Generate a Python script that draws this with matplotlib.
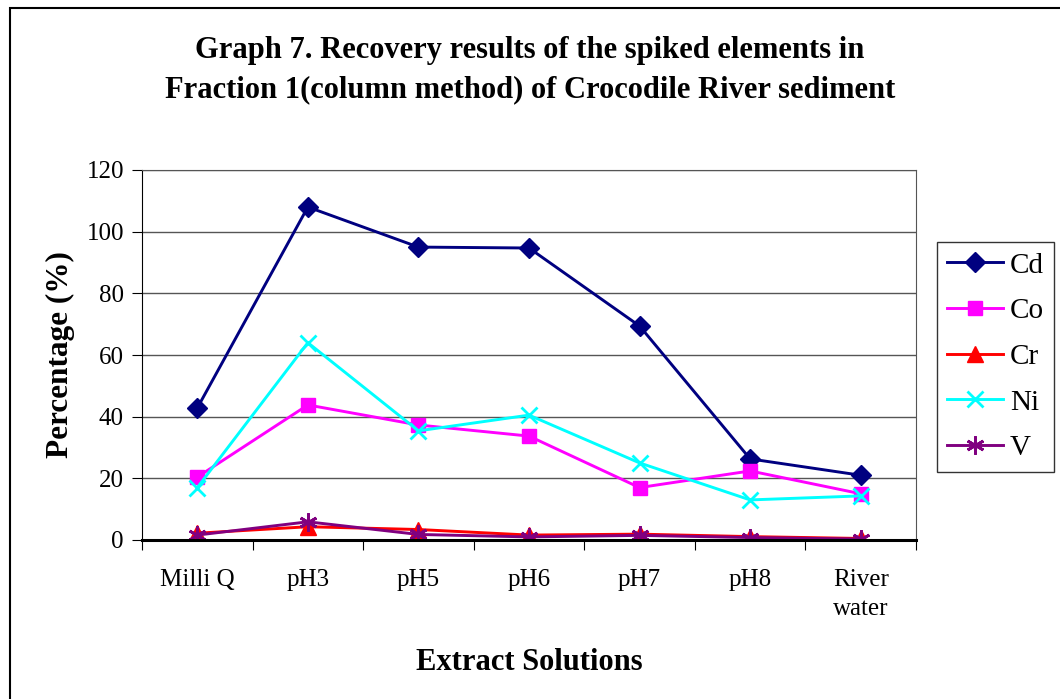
import numpy as np
from matplotlib import pyplot as plt
from matplotlib.patches import Rectangle

plt.rcParams['font.family'] = ['Liberation Serif', 'DejaVu Serif']

categories = ['Milli Q', 'pH3', 'pH5', 'pH6', 'pH7', 'pH8', 'River\nwater']
cd = [42.8, 108.0, 95.0, 94.7, 69.4, 26.3, 21.0]
co = [20.4, 43.8, 37.3, 33.7, 17.0, 22.4, 15.0]
cr = [2.2, 4.3, 3.4, 1.6, 1.9, 1.1, 0.5]
ni = [17.0, 64.0, 35.4, 40.5, 25.0, 13.0, 14.3]
v = [1.6, 5.9, 1.8, 1.0, 1.5, 0.8, 0.3]

fig = plt.figure(figsize=(10.6, 6.99), dpi=100)
ax = fig.add_axes([142/1060, 1 - 540/699, (916-142)/1060, (540-170)/699])

x = np.arange(len(categories))
ax.plot(x, cd, color='#000080', marker='D', markersize=10, linewidth=2.1, label='Cd')
ax.plot(x, co, color='#FF00FF', marker='s', markersize=10.5, linewidth=2.1, label='Co')
ax.plot(x, cr, color='#FF0000', marker='^', markersize=11, linewidth=2.1, label='Cr')
ax.plot(x, ni, color='#00FFFF', marker='x', markersize=12, markeredgewidth=2, linewidth=2.1, label='Ni')
ax.plot(x, v, color='#800080', marker=(6, 2, 0), markersize=13, markeredgewidth=2, linewidth=2.1, label='V')

ax.set_xlim(-0.5, len(categories) - 0.5)
ax.set_ylim(0, 120)
ax.set_yticks(range(0, 121, 20))
ax.yaxis.grid(True, color='#555555', linewidth=1)
ax.set_axisbelow(True)
ax.tick_params(axis='y', direction='out', length=7, labelsize=18, pad=6)

# category labels between boundary ticks
ax.set_xticks(np.arange(-0.5, len(categories), 1.0))
ax.set_xticklabels([])
ax.set_xticks(x, minor=True)
ax.set_xticklabels(categories, minor=True, fontsize=18, va='top', linespacing=1.4)
ax.tick_params(axis='x', which='major', direction='out', length=7)
ax.tick_params(axis='x', which='minor', length=0, pad=21)

for side in ['top', 'right']:
    ax.spines[side].set_color('#555555')
ax.spines['bottom'].set_linewidth(2.2)

ax.set_ylabel('Percentage (%)', fontsize=22.5, fontweight='bold', labelpad=8)
ax.set_xlabel('Extract Solutions', fontsize=22, fontweight='bold', labelpad=20)

fig.suptitle('Graph 7. Recovery results of the spiked elements in\nFraction 1(column method) of Crocodile River sediment',
             fontsize=22, fontweight='bold', y=1 - 36/699, va='top', linespacing=1.45)

leg = fig.legend(loc='upper left', bbox_to_anchor=(937/1060, 1 - 242/699), fontsize=21,
                 frameon=True, fancybox=False, edgecolor='black', handlelength=1.9,
                 borderpad=0.35, labelspacing=0.66, handletextpad=0.25, borderaxespad=0)
leg.get_frame().set_linewidth(1)

fig.patches.append(Rectangle((10/1060, -0.1), 1.2, 1 - 8/699 + 0.1, transform=fig.transFigure,
                             fill=False, edgecolor='black', linewidth=1.5))

plt.savefig('out.png', dpi=100)
